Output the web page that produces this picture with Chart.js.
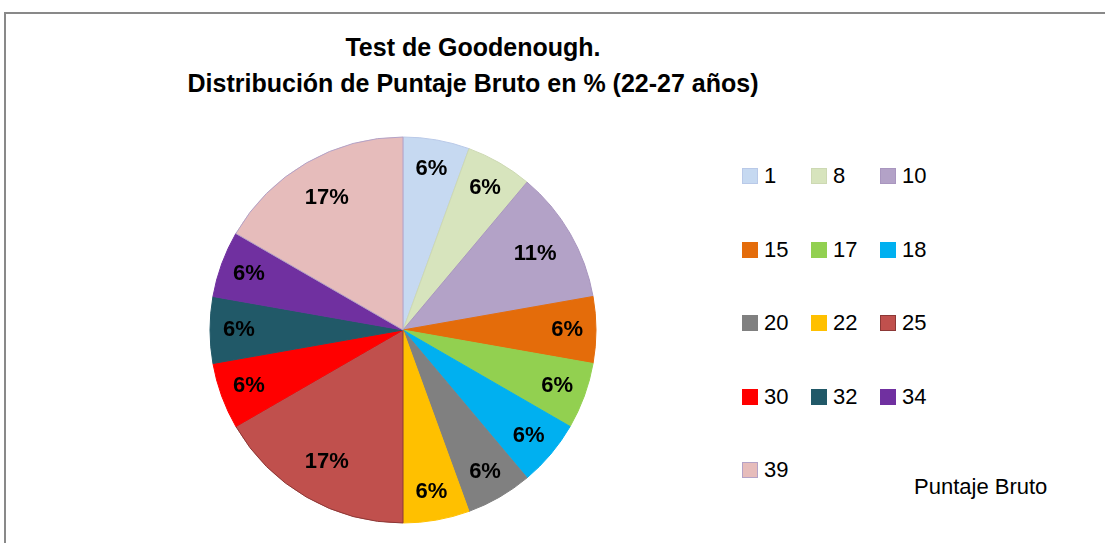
<!DOCTYPE html>
<html>
<head>
<meta charset="utf-8">
<script src="https://cdn.jsdelivr.net/npm/chart.js@4/dist/chart.umd.min.js"></script>
<style>
  body { margin: 0; background: #fff; width: 1105px; height: 543px; overflow: hidden; position: relative; font-family: "Liberation Sans", Arial, sans-serif; }
  #frame { position: absolute; left: 4px; top: 12px; width: 1200px; height: 600px; border: 2px solid #898989; }
  #title { position: absolute; left: 0; top: 29px; width: 946px; text-align: center; font-weight: bold; font-size: 25px; line-height: 36px; color: #000; font-family: "Liberation Sans", Arial, sans-serif; }
  #pie { position: absolute; left: 203px; top: 130px; width: 400px; height: 400px; }
  #legend { position: absolute; left: 742px; top: 163px; }
  .item { position: absolute; display: flex; align-items: center; font-size: 22px; color: #000; white-space: nowrap; }
  .box { width: 14px; height: 14px; margin-right: 6px; border: 1px solid; }
  #axis { position: absolute; left: 914px; top: 474px; font-size: 22px; color: #000; }
</style>
</head>
<body>
<div id="frame"></div>
<div id="title">Test de Goodenough.<br>Distribución de Puntaje Bruto en % (22-27 años)</div>
<div id="pie"><canvas id="chart_pie"></canvas></div>
<div id="legend"></div>
<div id="axis">Puntaje Bruto</div>
<script>
// Puntaje bruto categories and number of cases (18 in total)
var labels = ["1", "8", "10", "15", "17", "18", "20", "22", "25", "30", "32", "34", "39"];
var counts = [1, 1, 2, 1, 1, 1, 1, 1, 3, 1, 1, 1, 3];

var fills = ['#C6D9F1', '#D7E4BD', '#B3A2C7', '#E46C0A', '#92D050', '#00B0F0', '#808080',
             '#FFC000', '#C0504D', '#FF0000', '#215968', '#7030A0', '#E6BCBB'];
var edges = ['#B9C9E8', '#CDD9B3', '#A996BF', '#E46C0A', '#92D050', '#00B0F0', '#808080',
             '#FFC000', '#8C3836', '#FF0000', '#215968', '#7030A0', '#B3A2C7'];

// percent labels inside the slices
var pctLabels = {
  id: 'pctLabels',
  afterDatasetsDraw: function(chart) {
    var ctx = chart.ctx;
    var data = chart.data.datasets[0].data;
    var total = data.reduce(function(a, b) { return a + b; }, 0);
    var meta = chart.getDatasetMeta(0);
    ctx.save();
    ctx.fillStyle = '#000';
    ctx.font = 'bold 22px "Liberation Sans", Arial, sans-serif';
    ctx.textAlign = 'center';
    ctx.textBaseline = 'middle';
    meta.data.forEach(function(arc, i) {
      var mid = (arc.startAngle + arc.endAngle) / 2;
      var r = arc.outerRadius * (data[i] > 1 ? 0.79 : 0.85);
      var txt = Math.round(data[i] / total * 100) + '%';
      ctx.fillText(txt, arc.x + Math.cos(mid) * r, arc.y + Math.sin(mid) * r);
    });
    ctx.restore();
  }
};

var chart = new Chart(document.getElementById('chart_pie'), {
  type: 'pie',
  data: {
    labels: labels,
    datasets: [{
      data: counts,
      backgroundColor: fills,
      borderColor: edges,
      borderWidth: 1
    }]
  },
  options: {
    responsive: true,
    maintainAspectRatio: false,
    animation: false,
    radius: 193,
    layout: { padding: 0 },
    plugins: {
      legend: { display: false },
      tooltip: { enabled: false }
    }
  },
  plugins: [pctLabels]
});

// legend, row by row, three per row
var legend = document.getElementById('legend');
labels.forEach(function(lab, i) {
  var item = document.createElement('div');
  item.className = 'item';
  item.style.left = (i % 3) * 69 + 'px';
  item.style.top = Math.floor(i / 3) * 73.5 + 'px';
  item.innerHTML = '<span class="box" style="background:' + fills[i] + ';border-color:' + edges[i] + '"></span>' + lab;
  legend.appendChild(item);
});
</script>
</body>
</html>
